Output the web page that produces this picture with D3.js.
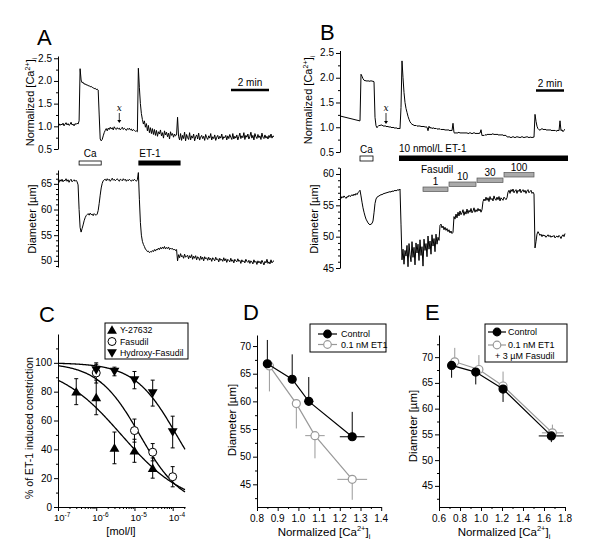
<!DOCTYPE html>
<html><head><meta charset="utf-8">
<script src="https://cdn.jsdelivr.net/npm/d3@7/dist/d3.min.js"></script>
<style>body{margin:0;background:#fff}svg{display:block}</style>
</head><body><svg id="c" width="600" height="557" font-family="Liberation Sans, Arial, sans-serif"></svg>
<script>
// ---------------- Panel A traces (one sample per time step) ----------------
const aCa = [1.04,1.06,1.02,1.05,1.03,1.07,1.01,1.05,1.08,1.03,1.06,1.02,1.04,1.09,1.03,1.05,1.01,1.06,1.04,1.07,1.05,
1.12,2.27,
2.02,1.96,1.97,1.93,1.94,1.91,1.92,1.89,1.90,1.87,1.88,1.86,1.85,1.83,1.84,1.81,1.82,1.80,
1.25,0.72,0.68,0.71,0.79,0.86,0.91,0.95,0.90,
0.96,0.93,0.98,0.94,0.97,0.92,0.99,0.95,0.93,0.97,0.94,0.96,0.92,0.95,0.98,0.93,0.96,0.94,0.91,0.95,0.93,0.96,0.92,0.94,0.90,0.93,0.91,0.89,0.90,
0.88,2.28,
1.85,1.50,1.28,1.15,1.05,1.12,0.98,1.06,0.90,1.02,0.86,0.97,0.84,0.95,0.82,
0.93,0.80,0.91,0.78,0.88,0.83,0.92,0.79,0.86,0.74,0.90,0.81,0.87,0.77,0.85,0.72,0.88,0.80,0.84,0.76,0.83,0.79,0.81,
1.20,
0.78,0.70,0.84,0.69,0.80,0.73,0.87,0.68,0.82,0.75,0.71,0.86,0.70,0.79,0.74,0.83,0.68,0.77,0.81,0.72,
0.85,0.70,0.76,0.80,0.73,0.78,0.69,0.82,0.75,0.71,0.79,0.74,0.84,0.70,0.77,0.73,0.81,0.69,0.76,0.80,
0.72,0.78,0.74,0.83,0.71,0.77,0.75,0.80,0.70,0.79,0.73,0.82,0.76,0.71,0.84,0.72,0.78,0.74,0.81,0.70,
0.77,0.85,0.73,0.79,0.75,0.86,0.71,0.80,0.76,0.83,0.72,0.78,0.87,0.74,0.80,0.70,0.84,0.77,0.73,0.82,
0.75,0.79,0.71,0.85,0.76,0.73,0.81,0.74,0.78,0.72,0.80,0.75,0.83,0.74,0.79,0.77];
const aDia = [65.6,65.3,65.8,65.5,65.9,65.4,65.7,65.6,66.0,65.5,65.8,65.3,65.7,65.9,65.4,65.6,65.8,65.5,65.7,65.4,
64.8,60.0,56.5,55.6,
56.3,57.0,57.8,58.4,58.8,59.0,
59.2,58.9,59.3,59.0,59.1,58.8,59.2,59.0,58.9,59.1,
59.8,61.2,62.8,64.2,65.1,65.6,65.8,
65.9,65.6,66.0,65.7,65.9,65.5,65.8,66.1,65.7,65.9,65.6,65.8,66.0,65.7,65.5,65.9,65.8,65.6,66.0,65.7,65.9,65.5,65.8,65.6,65.9,65.7,65.5,65.8,65.6,65.9,65.7,65.5,65.8,
67.2,
62.0,57.5,55.0,53.8,53.2,52.8,52.3,52.1,51.8,51.9,51.6,51.8,
51.7,52.0,51.8,52.2,51.9,52.3,52.1,52.5,52.2,52.6,52.3,52.7,52.4,52.8,52.3,52.6,52.4,52.7,52.2,52.5,52.3,52.4,52.1,52.3,52.0,52.2,
50.0,
51.2,50.6,51.4,50.8,51.0,50.5,51.3,50.7,50.9,51.1,50.4,51.0,50.6,51.2,50.3,50.9,50.5,51.0,50.2,50.8,
50.6,50.1,50.9,50.3,50.7,50.0,50.8,50.4,50.6,50.1,50.7,50.2,50.5,49.9,50.6,50.3,50.0,50.7,50.2,50.4,
49.8,50.5,50.1,50.3,49.9,50.6,50.0,50.4,49.7,50.3,50.1,49.8,50.5,49.9,50.2,49.6,50.3,50.0,49.8,50.4,
49.9,50.1,49.5,50.2,49.8,50.0,49.6,50.3,49.9,49.7,50.1,49.5,50.0,49.8,49.4,50.2,49.7,49.9,49.3,50.0,
49.6,49.9,49.4,50.1,49.7,49.2,49.9,49.6,50.3,49.5,49.8,49.4,50.2,49.6,49.9,50.0];

// ---------------- Panel B traces ----------------
const bCa = [1.23,1.22,1.22,1.21,1.21,1.20,1.20,1.19,1.19,1.18,1.18,1.17,1.17,1.16,1.16,1.15,1.15,1.14,1.14,1.13,
1.13,2.07,
2.03,1.98,1.95,1.94,1.94,1.93,1.94,1.93,1.93,1.94,1.93,1.93,1.92,
1.20,
1.03,0.99,1.02,1.04,1.03,1.05,1.04,1.03,1.02,1.03,1.02,1.01,1.02,1.00,1.01,1.00,0.99,1.00,0.99,0.98,0.99,0.98,0.97,0.98,0.97,
1.40,2.34,
2.00,1.70,1.50,1.38,1.30,1.22,1.16,1.11,1.08,1.06,1.05,1.04,1.03,1.04,1.02,1.03,1.02,1.03,1.01,1.02,1.01,1.02,1.00,1.01,1.00,
0.93,
1.02,0.98,1.00,0.97,0.99,0.98,0.97,0.98,0.96,0.97,0.96,0.97,0.95,0.96,0.95,0.96,0.94,0.95,0.94,0.95,0.94,0.93,0.94,0.93,
1.08,
0.89,0.88,0.89,0.88,0.89,0.90,0.88,0.89,0.88,0.89,0.88,0.89,0.88,0.89,0.87,0.88,0.89,0.88,0.87,0.88,0.89,0.88,0.87,0.88,0.87,0.88,0.88,
0.95,
0.83,0.84,0.83,0.85,0.84,0.85,0.86,0.85,0.86,0.85,0.86,0.87,0.85,0.86,0.85,0.86,0.85,0.84,0.85,0.84,0.85,0.84,0.83,0.84,0.83,
0.81,0.80,0.81,0.80,0.79,0.80,0.81,0.80,0.79,0.80,0.81,0.80,0.80,0.79,0.80,0.81,0.80,0.79,0.80,0.80,0.81,0.80,0.79,0.80,0.80,0.79,0.80,0.80,
1.26,
1.12,1.02,0.97,0.95,0.94,0.96,0.97,0.96,0.95,0.96,0.95,0.94,0.95,0.94,0.95,0.94,0.93,0.94,0.93,0.94,0.92,0.93,0.94,0.93,
1.13,0.93,0.95,0.91,0.94,0.96];
const bDia = [56.3,56.1,56.4,56.2,56.5,56.3,56.1,56.4,56.3,56.6,56.4,56.5,56.7,56.5,56.8,56.6,56.9,56.7,57.0,57.2,
57.4,
56.5,55.5,54.6,53.9,53.3,52.8,52.5,52.2,52.0,51.9,52.0,52.1,52.5,
53.8,55.3,56.0,56.3,
56.4,56.5,56.6,56.7,56.7,56.8,56.9,56.9,57.0,57.0,57.1,57.1,57.2,57.1,57.3,57.2,57.3,57.4,57.3,57.4,57.5,57.4,57.6,
52.0,
46.3,48.0,45.6,47.8,46.9,48.6,45.2,48.9,47.1,46.0,49.2,46.7,48.3,45.5,49.0,47.4,48.8,46.2,49.5,47.0,
48.4,45.3,49.6,47.8,48.9,46.8,50.1,48.0,49.3,47.2,50.3,48.5,49.7,47.6,50.4,48.8,49.9,49.4,
51.8,52.0,51.4,51.7,51.1,51.5,51.0,51.3,50.8,51.1,50.6,50.9,50.5,50.7,
53.2,52.8,53.6,53.0,53.9,53.3,54.1,53.5,53.8,54.3,53.4,54.0,53.6,54.4,53.7,54.2,53.9,54.5,53.8,54.1,54.6,53.9,54.3,54.0,54.5,54.1,54.4,53.9,54.3,
55.6,56.0,55.7,56.3,55.8,56.2,55.6,56.4,55.9,56.1,55.7,56.5,56.0,55.8,56.3,55.9,56.4,55.7,56.2,56.0,55.8,56.3,56.1,55.9,56.2,
57.1,57.4,56.9,57.5,57.2,57.6,57.0,57.3,57.5,56.9,57.4,57.2,57.6,57.0,57.3,57.5,57.1,57.4,56.9,57.3,57.5,57.0,57.2,57.4,56.9,57.1,56.8,
48.2,
49.2,50.4,50.8,50.5,50.2,50.4,50.0,50.3,50.1,50.2,49.9,50.1,50.3,50.0,50.2,49.9,50.1,50.0,50.2,49.8,
50.0,50.1,49.9,50.2,50.0,49.7,50.1,50.3,50.0,50.5];

const caTickLabels = ["0.5", "1.0", "1.5", "2.0", "2.5"];
const aDiaTicks = [50, 55, 60, 65];
const bDiaTicks = [45, 50, 55, 60];
const aEvents = {caStart: 21, caEnd: 43, etStart: 80, etEnd: 122, xMark: 61};
const bEvents = {caStart: 20, caEnd: 33, etStart: 59, etEnd: 228, xMark: 46};
const fasLabels = ["1", "10", "30", "100"];
const fasStart = [83, 109, 137, 164];
const fasEnd = [108, 136, 163, 194];

// ---------------- Panel C ----------------
const cNames = ["Y-27632", "Fasudil", "Hydroxy-Fasudil"];
const yConc = [3e-7, 1e-6, 3e-6, 1e-5, 3e-5];
const yMean = [80, 76, 41, 39, 27];
const yErr  = [9, 12, 11, 8, 7];
const fConc = [1e-6, 1e-5, 3e-5, 1e-4];
const fMean = [93, 53, 38, 21];
const fErr  = [7, 8, 6, 7];
const hConc = [1e-6, 3e-6, 1e-5, 3e-5, 1e-4];
const hMean = [95, 94, 88, 79, 52];
const hErr  = [4, 3, 6, 9, 11];
const fitLogIC50 = [-5.34, -4.86, -3.90];
const fitHill = [0.52, 0.79, 0.79];
const cYTickLabels = ["0", "20", "40", "60", "80", "100"];
const cXTicks = [1e-7, 1e-6, 1e-5, 1e-4];

// ---------------- Panel D ----------------
const dNames = ["Control", "0.1 nM ET1"];
const dCtrlX = [0.85, 0.97, 1.05, 1.26];
const dCtrlY = [66.8, 64.0, 60.0, 53.6];
const dCtrlXe = [0.016, 0.006, 0.023, 0.06];
const dCtrlYe = [4.3, 4.5, 4.4, 4.5];
const dEtX = [0.86, 0.99, 1.08, 1.26];
const dEtY = [66.4, 59.6, 53.8, 45.9];
const dEtXe = [0.008, 0.008, 0.047, 0.072];
const dEtYe = [4.6, 4.5, 4.1, 3.7];
const dXTicks = [0.8, 0.9, 1.0, 1.1, 1.2, 1.3, 1.4];
const dYTicks = [45, 50, 55, 60, 65, 70];

// ---------------- Panel E ----------------
const eNames = ["Control", "0.1 nM ET1", "+ 3 \u00b5M Fasudil"];
const eCtrlX = [0.72, 0.95, 1.21, 1.67];
const eCtrlY = [68.4, 67.1, 63.8, 54.7];
const eCtrlXe = [0.01, 0.01, 0.02, 0.12];
const eCtrlYe = [2.4, 2.4, 2.5, 1.2];
const eFasX = [0.75, 0.98, 1.21, 1.68];
const eFasY = [69.1, 67.6, 64.4, 55.3];
const eFasXe = [0.01, 0.01, 0.03, 0.1];
const eFasYe = [2.7, 2.8, 2.8, 1.6];
const eXTicks = [0.6, 0.8, 1.0, 1.2, 1.4, 1.6, 1.8];
const eYTicks = [45, 50, 55, 60, 65, 70];

const GRAY = "#999";
const svg = d3.select("#c");
const layerMarks = svg.append("g");
const layerText = svg.append("g").attr("fill", "#000");

function axisLines(g) {
  g.selectAll("path.domain").attr("stroke", "#000").attr("stroke-width", 1);
  g.selectAll(".tick line").attr("stroke", "#000");
  g.selectAll(".tick text").remove();
}
function leftAxis(scale, x, labels, minor) {
  const vals = labels.map(Number);
  const g = layerMarks.append("g").attr("transform", `translate(${x},0)`)
    .call(d3.axisLeft(scale).tickValues(vals).tickSize(4).tickSizeOuter(0).tickFormat(() => ""));
  axisLines(g);
  labels.forEach((l, i) => {
    layerText.append("text").attr("x", x - 6).attr("y", scale(vals[i]) + 3.5)
      .attr("text-anchor", "end").attr("font-size", 10).attr("fill", "#000").text(l);
  });
  if (minor) {
    const m = layerMarks.append("g").attr("transform", `translate(${x},0)`)
      .call(d3.axisLeft(scale).tickValues(minor).tickSize(2).tickFormat(() => ""));
    m.select("path.domain").remove();
    axisLines(m);
  }
}
function bottomAxis(scale, y, ticks, minor, withLabels) {
  const g = layerMarks.append("g").attr("transform", `translate(0,${y})`)
    .call(d3.axisBottom(scale).tickValues(ticks).tickSize(4).tickSizeOuter(0).tickFormat(() => ""));
  axisLines(g);
  if (withLabels) ticks.forEach(v => layerText.append("text").attr("x", scale(v)).attr("y", y + 15)
      .attr("text-anchor", "middle").attr("font-size", 10).text(v.toFixed(1)));
  if (minor) {
    const m = layerMarks.append("g").attr("transform", `translate(0,${y})`)
      .call(d3.axisBottom(scale).tickValues(minor).tickSize(2).tickFormat(() => ""));
    m.select("path.domain").remove();
    axisLines(m);
  }
}
function caLabel(sel, fs) {
  sel.append("tspan").text("Normalized [Ca");
  sel.append("tspan").attr("font-size", fs * 0.65).attr("dy", -fs * 0.4).text("2+");
  sel.append("tspan").attr("dy", fs * 0.4).text("]");
  sel.append("tspan").attr("font-size", fs * 0.65).attr("dy", fs * 0.3).text("i");
}
function yLabel(x, y, fs, fn) {
  const t = layerText.append("text").attr("transform", `translate(${x},${y}) rotate(-90)`)
    .attr("text-anchor", "middle").attr("font-size", fs);
  fn(t);
}
function txt(x, y, s, fs, anchor) {
  return layerText.append("text").attr("x", x).attr("y", y).attr("font-size", fs).attr("text-anchor", anchor || "start").text(s);
}
function rng(a, b, s) { return d3.range(a, b + s / 2, s).map(v => +v.toFixed(4)); }
function trace(data, xs, ys) {
  layerMarks.append("path").datum(data).attr("fill", "none").attr("stroke", "#000").attr("stroke-width", 1)
    .attr("d", d3.line().x((d, i) => xs(i)).y(d => ys(d)));
}

// =============== Panel A ===============
const xA = d3.scaleLinear().domain([0, aCa.length - 1]).range([58, 274]);
const yACa = d3.scaleLinear().domain([0.5, 2.55]).range([149, 56]);
const yADia = d3.scaleLinear().domain([48.8, 67.7]).range([267, 170]);
leftAxis(yACa, 58, caTickLabels, rng(0.75, 2.25, 0.5));
leftAxis(yADia, 58, aDiaTicks.map(String), rng(49, 67, 1).filter(v => v % 5 !== 0));
trace(aCa, xA, yACa);
trace(aDia, xA, yADia);
txt(37, 45, "A", 22);
yLabel(34, 102, 11, t => caLabel(t, 11));
yLabel(36, 219, 11, t => t.text("Diameter [\u00b5m]"));
layerMarks.append("rect").attr("x", xA(aEvents.caStart)).attr("y", 161).attr("width", xA(aEvents.caEnd) - xA(aEvents.caStart)).attr("height", 4)
  .attr("fill", "#fff").attr("stroke", "#000").attr("stroke-width", 0.8);
txt((xA(aEvents.caStart) + xA(aEvents.caEnd)) / 2, 157, "Ca", 10, "middle");
layerMarks.append("rect").attr("x", xA(aEvents.etStart)).attr("y", 160.5).attr("width", xA(aEvents.etEnd) - xA(aEvents.etStart)).attr("height", 5).attr("fill", "#000");
txt(xA(aEvents.etStart) + 1, 157, "ET-1", 10);
layerMarks.append("line").attr("x1", 231).attr("x2", 269).attr("y1", 90).attr("y2", 90).attr("stroke", "#000").attr("stroke-width", 2.5);
txt(250, 86, "2 min", 10, "middle");
function xMarker(x, yTop, yTip) {
  txt(x, yTop, "x", 9, "middle").attr("font-style", "italic").attr("font-family", "DejaVu Serif, serif");
  layerMarks.append("line").attr("x1", x).attr("x2", x).attr("y1", yTop + 2).attr("y2", yTip - 2).attr("stroke", "#000").attr("stroke-width", 0.8);
  layerMarks.append("path").attr("d", `M${x - 2},${yTip - 3}L${x + 2},${yTip - 3}L${x},${yTip}Z`).attr("fill", "#000");
}
xMarker(xA(aEvents.xMark), 111, 123);

// =============== Panel B ===============
const xB = d3.scaleLinear().domain([0, bCa.length - 1]).range([340, 565]);
const yBCa = d3.scaleLinear().domain([0.5, 2.55]).range([152, 50.5]);
const yBDia = d3.scaleLinear().domain([45, 61]).range([268, 167.7]);
leftAxis(yBCa, 340, caTickLabels, rng(0.75, 2.25, 0.5));
leftAxis(yBDia, 340, bDiaTicks.map(String), rng(46, 61, 1).filter(v => v % 5 !== 0));
trace(bCa, xB, yBCa);
trace(bDia, xB, yBDia);
txt(320, 40, "B", 22);
yLabel(312, 100, 11, t => caLabel(t, 11));
yLabel(318, 219, 11, t => t.text("Diameter [\u00b5m]"));
layerMarks.append("rect").attr("x", xB(bEvents.caStart)).attr("y", 156).attr("width", xB(bEvents.caEnd) - xB(bEvents.caStart)).attr("height", 5)
  .attr("fill", "#fff").attr("stroke", "#000").attr("stroke-width", 0.8);
txt((xB(bEvents.caStart) + xB(bEvents.caEnd)) / 2, 153, "Ca", 10, "middle");
layerMarks.append("rect").attr("x", xB(bEvents.etStart)).attr("y", 155.5).attr("width", xB(bEvents.etEnd) - xB(bEvents.etStart)).attr("height", 5.5).attr("fill", "#000");
txt(xB(bEvents.etStart), 152, "10 nmol/L ET-1", 10);
txt(421, 173, "Fasudil", 10);
const fasY = [187, 182, 178, 172.5];
fasLabels.forEach((l, i) => {
  const x0 = xB(fasStart[i]), x1 = xB(fasEnd[i]);
  layerMarks.append("rect").attr("x", x0).attr("y", fasY[i]).attr("width", x1 - x0).attr("height", 4.5)
    .attr("fill", "#aaa").attr("stroke", "#555").attr("stroke-width", 0.7);
  txt((x0 + x1) / 2, fasY[i] - 2, l, 10, "middle");
});
layerMarks.append("line").attr("x1", 536).attr("x2", 564).attr("y1", 90.5).attr("y2", 90.5).attr("stroke", "#000").attr("stroke-width", 2.5);
txt(550, 86.5, "2 min", 10, "middle");
xMarker(xB(bEvents.xMark), 111, 124);

// =============== Panel C ===============
const xC = d3.scaleLog().domain([1e-7, 2.1e-4]).range([58, 185]);
const yC = d3.scaleLinear().domain([0, 120]).range([507, 334]);
leftAxis(yC, 58, cYTickLabels, [10, 30, 50, 70, 90, 110]);
const cMinor = [];
[1e-7, 1e-6, 1e-5, 1e-4].forEach(d => [2, 3, 4, 5, 6, 7, 8, 9].forEach(k => { if (d * k < 2.1e-4) cMinor.push(d * k); }));
bottomAxis(xC, 507, cXTicks, cMinor, false);
cXTicks.forEach(v => {
  const t = txt(xC(v) - 4, 521, "", 9.5, "start");
  t.append("tspan").text("10");
  t.append("tspan").attr("font-size", 6.5).attr("dy", -4).text(String(Math.round(Math.log10(v))));
});
txt(121, 535, "[mol/l]", 11, "middle");
yLabel(33, 428, 10.5, t => t.text("% of ET-1 induced constriction"));
txt(39, 322, "C", 22);
const fitX = d3.range(0, 201).map(i => Math.pow(10, -7 + i * (Math.log10(2.1e-4) + 7) / 200));
fitLogIC50.forEach((L, k) => {
  layerMarks.append("path").datum(fitX).attr("fill", "none").attr("stroke", "#000").attr("stroke-width", 1.3)
    .attr("d", d3.line().x(d => xC(d)).y(d => yC(100 / (1 + Math.pow(10, fitHill[k] * (Math.log10(d) - L))))));
});
const triUp = d3.symbol(d3.symbolTriangle, 42)();
function errV(x, y0, y1, cap, color) {
  layerMarks.append("line").attr("x1", x).attr("x2", x).attr("y1", y0).attr("y2", y1).attr("stroke", color).attr("stroke-width", 1);
  if (cap) [y0, y1].forEach(y => layerMarks.append("line").attr("x1", x - cap).attr("x2", x + cap).attr("y1", y).attr("y2", y).attr("stroke", color));
}
function errH(y, x0, x1, color) {
  layerMarks.append("line").attr("x1", x0).attr("x2", x1).attr("y1", y).attr("y2", y).attr("stroke", color).attr("stroke-width", 1);
}
const cSets = [[yConc, yMean, yErr, "up"], [fConc, fMean, fErr, "circle"], [hConc, hMean, hErr, "down"]];
cSets.forEach(([cx, cm, ce]) => cx.forEach((c, i) => errV(xC(c), yC(cm[i] - ce[i]), yC(Math.min(100.5, cm[i] + ce[i])), 2, "#000")));
function cMarker(sym, x, y) {
  if (sym === "circle") layerMarks.append("circle").attr("cx", x).attr("cy", y).attr("r", 4).attr("fill", "#fff").attr("stroke", "#000").attr("stroke-width", 1);
  else layerMarks.append("path").attr("d", triUp).attr("fill", "#000")
    .attr("transform", `translate(${x},${y + (sym === "up" ? 1 : -1)})${sym === "down" ? " rotate(180)" : ""}`);
}
cSets.forEach(([cx, cm, ce, sym]) => cx.forEach((c, i) => cMarker(sym, xC(c), yC(cm[i]))));
layerMarks.append("rect").attr("x", 105).attr("y", 323).attr("width", 83).attr("height", 36).attr("fill", "#fff").attr("stroke", "#000").attr("stroke-width", 1);
const cLegY = [330, 341.5, 353];
cNames.forEach((n, i) => {
  cMarker(cSets[i][3], 112, cLegY[i]);
  txt(120, cLegY[i] + 3.3, n, 8.8);
});

// =============== Panel D ===============
const xD = d3.scaleLinear().domain([0.8, 1.4]).range([257, 381.2]);
const yD = d3.scaleLinear().domain([40.9, 72]).range([507, 335]);
leftAxis(yD, 257, dYTicks.map(String), [42.5, 47.5, 52.5, 57.5, 62.5, 67.5]);
bottomAxis(xD, 507, dXTicks, [0.85, 0.95, 1.05, 1.15, 1.25, 1.35], true);
txt(243, 320, "D", 22);
yLabel(236, 420, 11.5, t => t.text("Diameter [\u00b5m]"));
caLabel(txt(324, 536, "", 11.5, "middle"), 11.5);
function drawSeries(xs, ys, xe, ye, dir, color, filled, xS, yS) {
  layerMarks.append("path").datum(xs.map((x, i) => [x, ys[i]])).attr("fill", "none").attr("stroke", color).attr("stroke-width", 1.2)
    .attr("d", d3.line().x(d => xS(d[0])).y(d => yS(d[1])));
  xs.forEach((x, i) => {
    errV(xS(x), yS(ys[i]), yS(ys[i] + dir * ye[i]), 0, color);
    errH(yS(ys[i]), xS(x - xe[i]), xS(x + xe[i]), color);
  });
  xs.forEach((x, i) => layerMarks.append("circle").attr("cx", xS(x)).attr("cy", yS(ys[i])).attr("r", 4)
    .attr("fill", filled ? "#000" : "#fff").attr("stroke", color).attr("stroke-width", 1.2));
}
drawSeries(dEtX, dEtY, dEtXe, dEtYe, -1, GRAY, false, xD, yD);
drawSeries(dCtrlX, dCtrlY, dCtrlXe, dCtrlYe, 1, "#000", true, xD, yD);
layerMarks.append("rect").attr("x", 310).attr("y", 324).attr("width", 76).attr("height", 28).attr("fill", "#fff").attr("stroke", "#000");
[[334, "#000", true, dNames[0]], [344.5, GRAY, false, dNames[1]]].forEach(([y, c, f, n]) => {
  layerMarks.append("line").attr("x1", 318).attr("x2", 337).attr("y1", y).attr("y2", y).attr("stroke", c).attr("stroke-width", 1.2);
  layerMarks.append("circle").attr("cx", 327.5).attr("cy", y).attr("r", 3.8).attr("fill", f ? "#000" : "#fff").attr("stroke", c).attr("stroke-width", 1.2);
  txt(341, y + 3.3, n, 9);
});

// =============== Panel E ===============
const xE = d3.scaleLinear().domain([0.6, 1.8]).range([439, 565]);
const yE = d3.scaleLinear().domain([40.9, 74.3]).range([507, 335]);
leftAxis(yE, 439, eYTicks.map(String), [42.5, 47.5, 52.5, 57.5, 62.5, 67.5, 72.5]);
bottomAxis(xE, 507, eXTicks, [0.7, 0.9, 1.1, 1.3, 1.5, 1.7], true);
txt(425, 320, "E", 22);
yLabel(417, 426, 11.5, t => t.text("Diameter [\u00b5m]"));
caLabel(txt(504, 536, "", 11.5, "middle"), 11.5);
drawSeries(eFasX, eFasY, eFasXe, eFasYe, 1, GRAY, false, xE, yE);
drawSeries(eCtrlX, eCtrlY, eCtrlXe, eCtrlYe, -1, "#000", true, xE, yE);
layerMarks.append("rect").attr("x", 485).attr("y", 324).attr("width", 82).attr("height", 38).attr("fill", "#fff").attr("stroke", "#000");
[[332, "#000", true, eNames[0]], [345, GRAY, false, eNames[1]]].forEach(([y, c, f, n]) => {
  layerMarks.append("line").attr("x1", 488).attr("x2", 506).attr("y1", y).attr("y2", y).attr("stroke", c).attr("stroke-width", 1.2);
  layerMarks.append("circle").attr("cx", 497).attr("cy", y).attr("r", 3.8).attr("fill", f ? "#000" : "#fff").attr("stroke", c).attr("stroke-width", 1.2);
  txt(508, y + 3.3, n, 9);
});
txt(495, 358.5, eNames[2], 9);
</script></body></html>
